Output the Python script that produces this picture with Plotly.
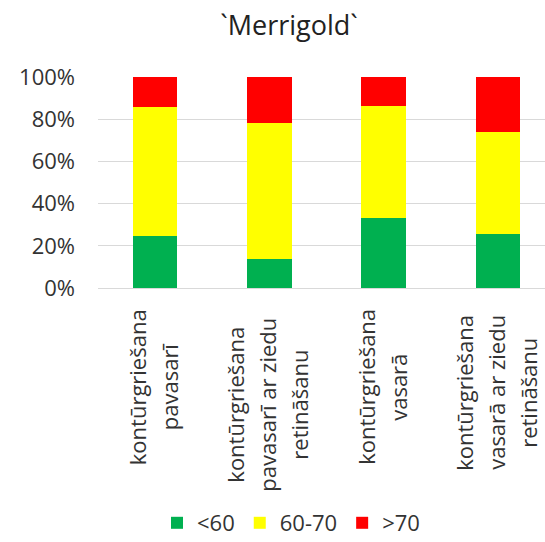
import plotly.graph_objects as go

# Category labels, one entry per line under each bar
categories = [
    ["kontūrgriešana", "pavasarī"],
    ["kontūrgriešana", "pavasarī ar ziedu", "retināšanu"],
    ["kontūrgriešana", "vasarā"],
    ["kontūrgriešana", "vasarā ar ziedu", "retināšanu"],
]
cat_ids = [0, 1, 2, 3]

# Share of fruits per size class, %
below_60 = [24.5, 13.9, 33.3, 25.7]
between_60_70 = [61.3, 64.3, 53.1, 48.4]
above_70 = [14.2, 21.8, 13.6, 25.9]

series_names = ["<60", "60-70", ">70"]
series_values = [below_60, between_60_70, above_70]
series_colors = ["#00B050", "#FFFF00", "#FF0000"]

y_ticks = [0, 20, 40, 60, 80, 100]
y_tick_text = ["0%", "20%", "40%", "60%", "80%", "100%"]

FONT = "Open Sans"
TEXT_COLOR = "#333333"
GRID_COLOR = "#D9D9D9"
LABEL_SIZE = 22
LINE_GAP = 32          # px between rotated label lines
CHAR_W = 0.52 * LABEL_SIZE  # rough average glyph advance

fig = go.Figure()
for name, vals, color in zip(series_names, series_values, series_colors):
    fig.add_trace(go.Bar(
        x=cat_ids, y=vals, name=name,
        marker=dict(color=color, line=dict(width=0)),
    ))

# Rotated category labels: lines centred on each other, block hanging
# from just below the axis
for cid, lines in zip(cat_ids, categories):
    longest = max(len(s) for s in lines) * CHAR_W
    n = len(lines)
    for i, line in enumerate(lines):
        fig.add_annotation(
            x=cid, xref="x", y=0, yref="paper",
            xshift=(i - (n - 1) / 2) * LINE_GAP - 2,
            yshift=-(19 + longest / 2),
            text=line, textangle=-90,
            xanchor="center", yanchor="middle", showarrow=False,
            font=dict(family=FONT, size=LABEL_SIZE, color=TEXT_COLOR),
        )

fig.update_layout(
    width=545, height=542,
    margin=dict(l=98, r=0, t=77, b=254),
    paper_bgcolor="white", plot_bgcolor="white",
    barmode="stack", bargap=0.61,
    title=dict(
        text="`Merrigold`", x=289 / 545, xref="container", xanchor="center",
        y=1 - 26 / 542, yref="container", yanchor="middle",
        font=dict(family=FONT, size=27, color="#222222"),
    ),
    showlegend=True,
    legend=dict(
        orientation="h", xref="container", x=291 / 545, xanchor="center",
        yref="container", y=1 - 523 / 542, yanchor="middle",
        font=dict(family=FONT, size=22, color=TEXT_COLOR),
        traceorder="normal", itemsizing="constant",
    ),
    xaxis=dict(
        range=[-0.5, 3.411], showticklabels=False, showgrid=False,
        zeroline=False, showline=False, fixedrange=True,
    ),
    yaxis=dict(
        range=[0, 100], tickvals=y_ticks, ticktext=y_tick_text,
        showgrid=True, gridcolor=GRID_COLOR, gridwidth=1,
        zeroline=True, zerolinecolor=GRID_COLOR, zerolinewidth=1,
        showline=False, ticks="", ticklabelstandoff=22,
        tickfont=dict(family=FONT, size=22, color=TEXT_COLOR),
    ),
)

fig.write_html("out.html")
